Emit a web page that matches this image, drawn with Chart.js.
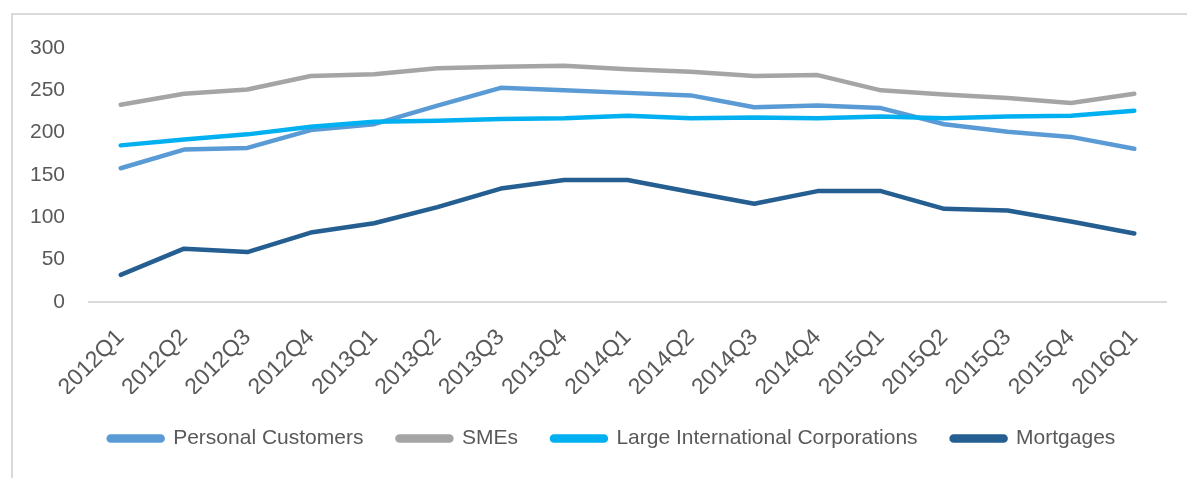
<!DOCTYPE html>
<html>
<head>
<meta charset="utf-8">
<script src="https://cdn.jsdelivr.net/npm/chart.js@4"></script>
<style>
    body { margin: 0; background: #fff; overflow: hidden; }
    #frame { position: absolute; left: 11px; top: 13px; width: 1300px; height: 600px;
             border-left: 2px solid #D9D9D9; border-top: 2px solid #D9D9D9; }
    #wrap { position: absolute; left: 0; top: 0; width: 1187px; height: 478px; }
</style>
</head>
<body>
<div id="frame"></div>
<div id="wrap"><canvas id="riskChart" width="1187" height="478"></canvas></div>
<script>
const quarters = ["2012Q1", "2012Q2", "2012Q3", "2012Q4", "2013Q1", "2013Q2", "2013Q3", "2013Q4",
    "2014Q1", "2014Q2", "2014Q3", "2014Q4", "2015Q1", "2015Q2", "2015Q3", "2015Q4", "2016Q1"];
const personalCustomers = [158, 180, 182, 203, 210, 232, 253, 250, 247, 244, 230, 232, 229, 210, 201, 195, 181];
const smes = [233, 246, 251, 267, 269, 276, 278, 279, 275, 272, 267, 268, 250, 245, 241, 235, 246];
const largeCorporations = [185, 192, 198, 207, 213, 214, 216, 217, 220, 217, 218, 217, 219, 217, 219, 220, 226];
const mortgages = [32, 63, 59, 82, 93, 112, 134, 144, 144, 130, 116, 131, 131, 110, 108, 95, 81];
const yTicks = [0, 50, 100, 150, 200, 250, 300];

const font = "'Liberation Sans', Arial, sans-serif";
const textColor = "#595959";

function series(label, data, color, order) {
    return {
        label: label,
        data: data,
        borderColor: color,
        backgroundColor: color,
        borderWidth: 4.5,
        pointRadius: 0,
        borderCapStyle: "round",
        borderJoinStyle: "round",
        tension: 0,
        order: order
    };
}

// legend in the original sits a bit right of the canvas centre
const legendShift = {
    id: "legendShift",
    afterLayout(chart) {
        chart.legend.left += 29;
        chart.legend.right += 29;
    }
};

const ctx = document.getElementById("riskChart").getContext("2d");
new Chart(ctx, {
    type: "line",
    data: {
        labels: quarters,
        datasets: [
            series("Personal Customers", personalCustomers, "#5B9BD5", 3),
            series("SMEs", smes, "#A5A5A5", 2),
            series("Large International Corporations", largeCorporations, "#00B0F0", 1),
            series("Mortgages", mortgages, "#255E91", 0)
        ]
    },
    plugins: [legendShift],
    options: {
        responsive: false,
        animation: false,
        layout: { padding: { top: 48, left: 0, right: 21, bottom: 19 } },
        plugins: {
            tooltip: { enabled: false },
            legend: {
                display: true,
                position: "bottom",
                labels: {
                    font: { family: font, size: 21 },
                    color: textColor,
                    boxWidth: 54,
                    boxHeight: 4,
                    useBorderRadius: true,
                    borderRadius: 2,
                    padding: 34,
                    sort: (a, b) => a.datasetIndex - b.datasetIndex
                }
            }
        },
        scales: {
            x: {
                offset: true,
                grid: { display: false, drawTicks: false },
                border: { display: true, color: "#D9D9D9", width: 2 },
                ticks: {
                    font: { family: font, size: 23 },
                    color: textColor,
                    minRotation: 45,
                    maxRotation: 45,
                    autoSkip: false,
                    padding: 22
                },
                afterFit: axis => { axis.height = 92; }
            },
            y: {
                min: 0,
                max: 300,
                grid: { display: false, drawTicks: false },
                border: { display: false },
                afterBuildTicks: axis => { axis.ticks = yTicks.map(v => ({ value: v })); },
                ticks: {
                    font: { family: font, size: 21 },
                    color: textColor,
                    padding: 24
                },
                afterFit: axis => { axis.width = 89; }
            }
        }
    }
});
</script>
</body>
</html>
